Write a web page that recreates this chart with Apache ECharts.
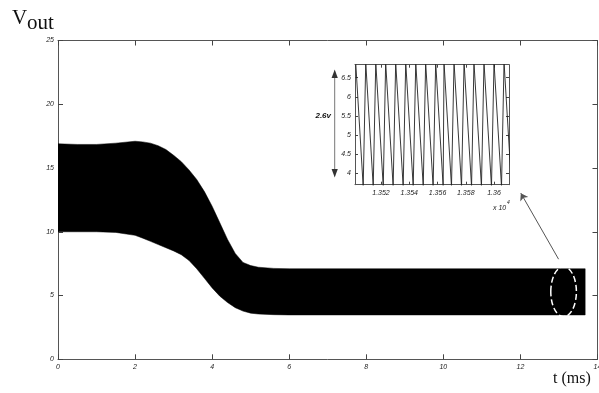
<!DOCTYPE html>
<html>
<head>
<meta charset="utf-8">
<script src="https://cdn.jsdelivr.net/npm/echarts@6/dist/echarts.min.js"></script>
<style>html,body{margin:0;padding:0;background:#fff;}#c{width:599px;height:393px;}</style>
</head>
<body>
<div id="c"></div>
<script>
// Main envelope of Vout (band filled black between lower and upper)
const mainT  = [0, 0.5, 1, 1.5, 2, 2.2, 2.4, 2.6, 2.8, 3.0, 3.2, 3.4, 3.6, 3.8, 4.0, 4.2, 4.4, 4.6, 4.8, 5.0, 5.2, 5.6, 6, 13.68];
const upperV = [16.9, 16.85, 16.85, 16.95, 17.1, 17.05, 16.95, 16.75, 16.45, 16.0, 15.5, 14.85, 14.1, 13.15, 12.0, 10.7, 9.4, 8.3, 7.6, 7.35, 7.22, 7.13, 7.1, 7.1];
const lowerV = [10.0, 10.0, 10.0, 9.95, 9.72, 9.5, 9.25, 9.0, 8.75, 8.5, 8.2, 7.75, 7.1, 6.35, 5.6, 4.95, 4.45, 4.05, 3.78, 3.62, 3.55, 3.5, 3.48, 3.48];

// Inset sawtooth (time x 10^4, voltage)
const insetT = [1.35021, 1.35074, 1.35092, 1.35145, 1.35163, 1.35216, 1.35233, 1.35286, 1.35304, 1.35357,
                1.35375, 1.35428, 1.35446, 1.35499, 1.35516, 1.35569, 1.35587, 1.35640, 1.35646, 1.35699,
                1.35717, 1.35770, 1.35788, 1.35841, 1.35858, 1.35911, 1.35929, 1.35982, 1.36000, 1.36053,
                1.36071, 1.36124];
const insetV = [6.9, 3.65, 6.9, 3.65, 6.9, 3.65, 6.9, 3.65, 6.9, 3.65,
                6.9, 3.65, 6.9, 3.65, 6.9, 3.65, 6.9, 3.65, 6.9, 3.65,
                6.9, 3.65, 6.9, 3.65, 6.9, 3.65, 6.9, 3.65, 6.9, 3.65,
                6.9, 3.65];

const mainXTicks = [0, 2, 4, 6, 8, 10, 12, 14];
const mainYTicks = [0, 5, 10, 15, 20, 25];
const insetXTicks = [1.352, 1.354, 1.356, 1.358, 1.36];
const insetYTicks = [4, 4.5, 5, 5.5, 6, 6.5];

// Arrow from ellipse to inset (data coords, main axes)
const arrowFrom = [12.99, 7.85];
const arrowTo = [12.01, 13.03];
const ellipseCenter = [13.12, 5.3];

const chart = echarts.init(document.getElementById('c'), null, {renderer: 'canvas'});

const lab = {fontFamily: 'Liberation Sans', fontStyle: 'italic', fontSize: 7, color: '#222'};
const axLine = {show: true, onZero: false, lineStyle: {color: '#555', width: 1}};

function axisX(grid, pos, labels, min, max, extra) {
  return Object.assign({
    type: 'value', gridIndex: grid, position: pos, min: min, max: max,
    axisLine: axLine,
    axisTick: {show: true, inside: true, length: grid === 0 ? 5 : 3, lineStyle: {color: '#444'}},
    axisLabel: Object.assign({show: labels, margin: 4}, lab),
    splitLine: {show: false}
  }, extra);
}

const insetData = insetT.map((t, i) => [t, insetV[i]]);

chart.setOption({
  animation: false,
  backgroundColor: '#fff',
  grid: [
    {left: 58, top: 40.5, width: 539.5, height: 318.8, show: false, outerBoundsMode: 'none', containLabel: false},
    {left: 355, top: 64.7, width: 154, height: 120, show: true, backgroundColor: '#fff', borderWidth: 0, outerBoundsMode: 'none', containLabel: false}
  ],
  xAxis: [
    axisX(0, 'bottom', true, 0, 14, {interval: 2}),
    axisX(0, 'top', false, 0, 14, {interval: 2}),
    axisX(1, 'bottom', true, 1.35016, 1.36106, {
      axisLabel: Object.assign({show: true, margin: 5, customValues: insetXTicks, formatter: v => String(+v.toFixed(3))}, lab),
      axisTick: {show: true, inside: true, length: 3, customValues: insetXTicks, lineStyle: {color: '#444'}}
    }),
    axisX(1, 'top', false, 1.35016, 1.36106, {
      axisTick: {show: true, inside: true, length: 3, customValues: insetXTicks, lineStyle: {color: '#444'}}
    })
  ],
  yAxis: [
    axisX(0, 'left', true, 0, 25, {interval: 5}),
    axisX(0, 'right', false, 0, 25, {interval: 5}),
    axisX(1, 'left', true, 3.7, 6.84, {
      axisLabel: Object.assign({show: true, margin: 4, customValues: insetYTicks, formatter: v => String(+v.toFixed(1))}, lab),
      axisTick: {show: true, inside: true, length: 3, customValues: insetYTicks, lineStyle: {color: '#444'}}
    }),
    axisX(1, 'right', false, 3.7, 6.84, {
      axisTick: {show: true, inside: true, length: 3, customValues: insetYTicks, lineStyle: {color: '#444'}}
    })
  ],
  series: [
    {
      type: 'custom', xAxisIndex: 0, yAxisIndex: 0, clip: true,
      data: [[0, 0]],
      renderItem: function (params, api) {
        const pts = [];
        for (let i = 0; i < mainT.length; i++) pts.push(api.coord([mainT[i], upperV[i]]));
        for (let i = mainT.length - 1; i >= 0; i--) pts.push(api.coord([mainT[i], lowerV[i]]));
        return {type: 'polygon', shape: {points: pts}, style: {fill: '#000', stroke: '#000', lineWidth: 0.5}};
      }
    },
    {
      type: 'line', xAxisIndex: 2, yAxisIndex: 2, data: insetData, showSymbol: false, clip: true,
      lineStyle: {color: '#222', width: 0.9}, z: 5
    },
    {
      type: 'lines', coordinateSystem: 'cartesian2d', xAxisIndex: 0, yAxisIndex: 0,
      symbol: ['none', 'arrow'], symbolSize: 7,
      lineStyle: {color: '#555', width: 1, opacity: 1},
      data: [{coords: [arrowFrom, arrowTo]}], z: 6
    }
  ]
});

const ec = chart.convertToPixel({gridIndex: 0}, ellipseCenter);
chart.setOption({
  graphic: [
    {type: 'ellipse', shape: {cx: ec[0], cy: ec[1], rx: 12.8, ry: 25}, style: {fill: 'none', stroke: '#fff', lineWidth: 1.5, lineDash: [6, 3]}, z: 100},
    {type: 'text', left: 12, top: 8, style: {text: 'V', font: '21px "Liberation Serif"', fill: '#111'}},
    {type: 'text', left: 27, top: 13, style: {text: 'out', font: '21px "Liberation Serif"', fill: '#111'}},
    {type: 'text', left: 553, top: 371, style: {text: 't (ms)', font: '16px "Liberation Serif"', fill: '#111'}},
    {type: 'text', x: 331, y: 116, style: {text: '2.6v', font: 'italic bold 8px "Liberation Sans"', fill: '#111', align: 'right', verticalAlign: 'middle'}, z: 50},
    {type: 'line', shape: {x1: 334.7, y1: 76, x2: 334.7, y2: 171}, style: {stroke: '#777', lineWidth: 1}, z: 50},
    {type: 'polygon', shape: {points: [[334.7, 69.5], [331.6, 78], [337.8, 78]]}, style: {fill: '#333'}, z: 50},
    {type: 'polygon', shape: {points: [[334.7, 177.5], [331.6, 169], [337.8, 169]]}, style: {fill: '#333'}, z: 50},
    {type: 'text', x: 493, y: 208, style: {text: 'x 10', font: 'italic 7px "Liberation Sans"', fill: '#222', verticalAlign: 'middle'}, z: 50},
    {type: 'text', x: 507, y: 203, style: {text: '4', font: 'italic 5px "Liberation Sans"', fill: '#222', verticalAlign: 'middle'}, z: 50}
  ]
});
</script>
</body>
</html>
